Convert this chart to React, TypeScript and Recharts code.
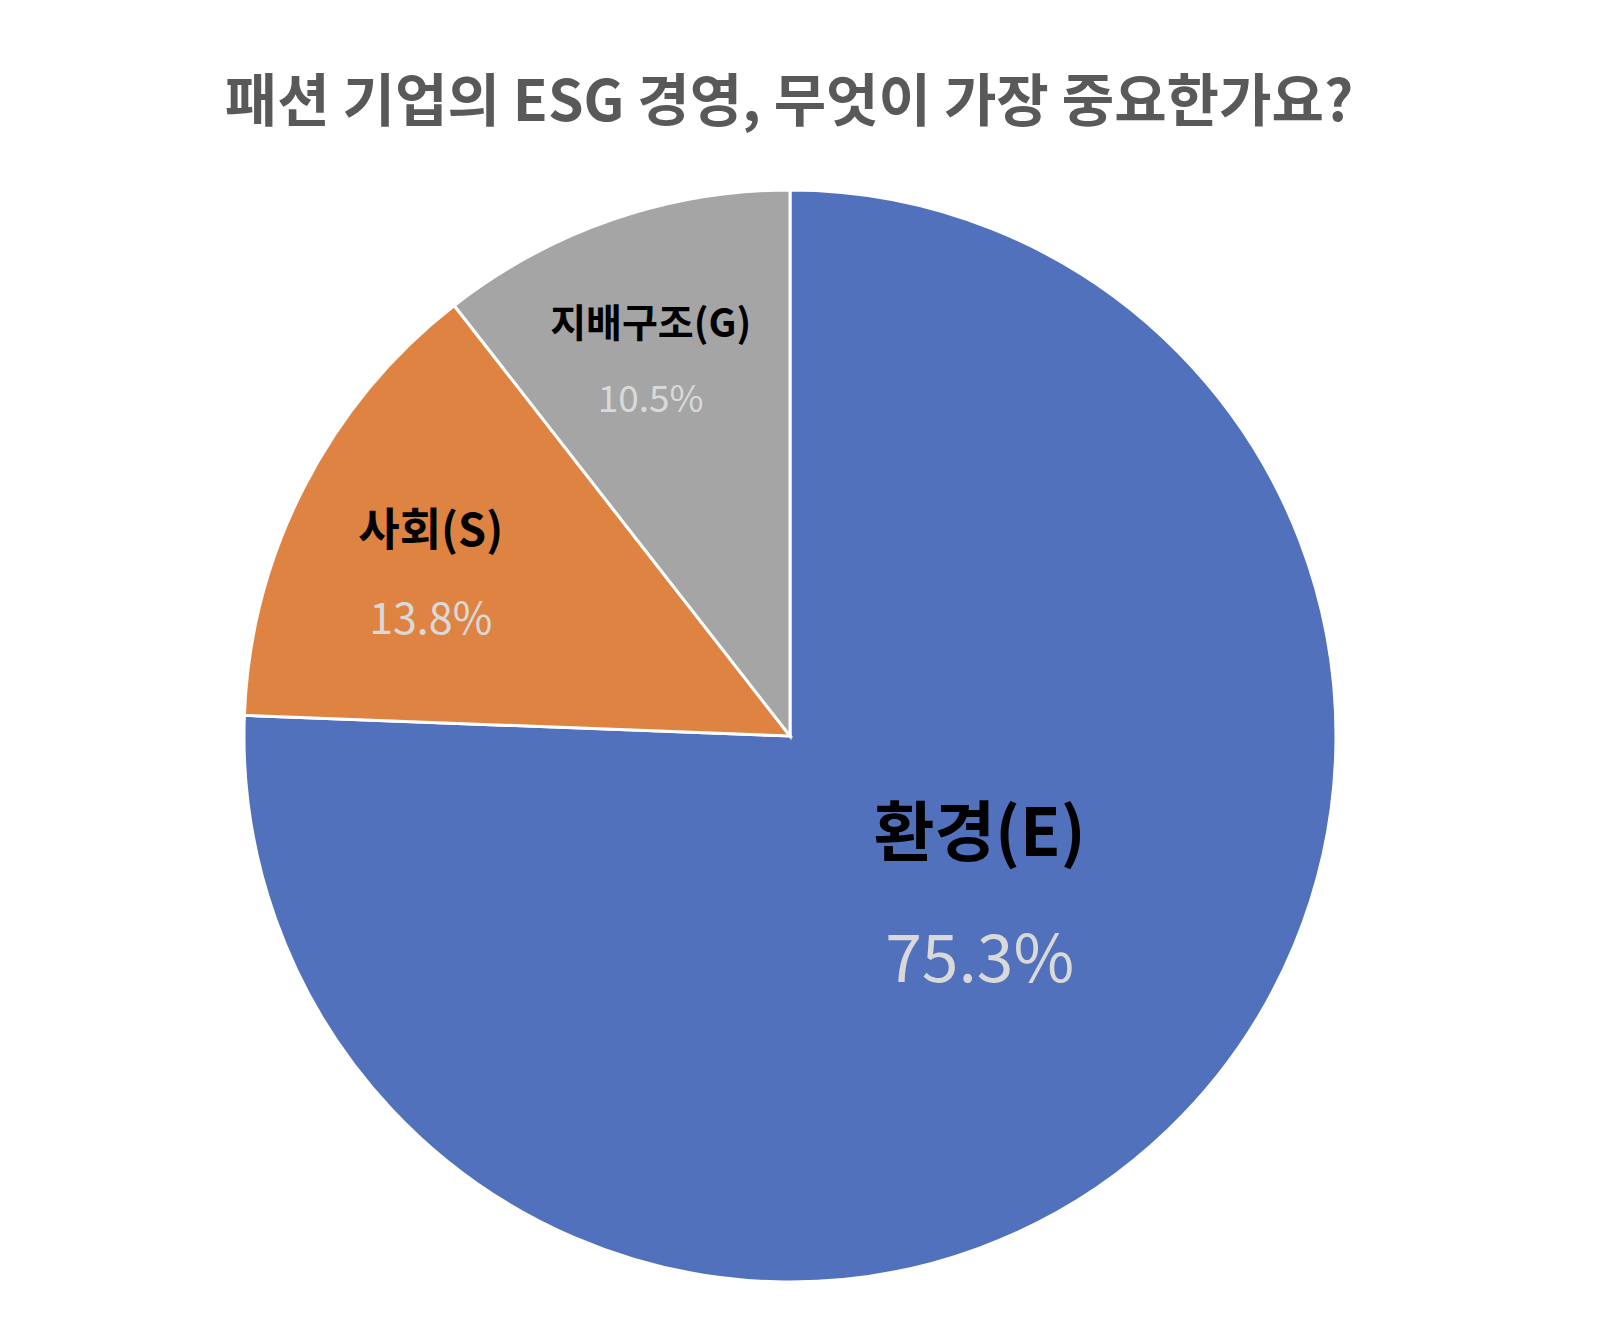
import React from 'react';
import { PieChart, Pie, Cell } from 'recharts';

const names = ['환경(E)', '사회(S)', '지배구조(G)'];
const values = [75.3, 13.8, 10.5];
const colors = ['#5171BD', '#DF8343', '#A5A5A5'];

const data = names.map((name, i) => ({ name, value: values[i] }));

const RAD = Math.PI / 180;
const FONT = '"Noto Sans CJK KR", "Noto Sans", sans-serif';

// label placement tweaks per slice (radius fraction, angle shift, sizes, gap)
const labelStyle = [
  { frac: 0.456, shift: 5.7, nameSize: 66, pctSize: 66, gap: 63, dy: -7 },
  { frac: 0.722, shift: 2.8, nameSize: 45, pctSize: 43, gap: 44, dy: -3 },
  { frac: 0.733, shift: 1.4, nameSize: 39, pctSize: 37, gap: 38, dy: -3 },
];

const renderLabel = (props: any) => {
  const { cx, cy, midAngle, outerRadius, index, name, value } = props;
  const s = labelStyle[index];
  const r = outerRadius * s.frac;
  const a = (midAngle + s.shift) * RAD;
  const x = cx + r * Math.cos(-a);
  const y = cy + r * Math.sin(-a) + s.dy;
  return (
    <g>
      <text x={x} y={y - s.gap} textAnchor="middle" dominantBaseline="central"
        fill="#000" fontFamily={FONT} fontWeight={700} fontSize={s.nameSize}>
        {name}
      </text>
      <text x={x} y={y + s.gap} textAnchor="middle" dominantBaseline="central"
        fill="#D9D9D9" fontFamily={FONT} fontWeight={400} fontSize={s.pctSize}>
        {value}%
      </text>
    </g>
  );
};

export default function App() {
  return (
    <div style={{ position: 'absolute', left: 0, top: 0, width: 1604, height: 1328, background: '#fff' }}>
      <div style={{
        position: 'absolute', left: 0, top: 56, width: 1578, textAlign: 'center',
        fontFamily: FONT, fontWeight: 700, fontSize: 57, color: '#595959', lineHeight: '80px',
      }}>
        패션 기업의 ESG 경영, 무엇이 가장 중요한가요?
      </div>
      <PieChart width={1604} height={1328}>
        <Pie
          data={data}
          dataKey="value"
          nameKey="name"
          cx={785}
          cy={731}
          outerRadius={546}
          startAngle={90}
          endAngle={-270}
          stroke="#fff"
          strokeWidth={3}
          labelLine={false}
          label={renderLabel}
          isAnimationActive={false}
        >
          {data.map((d, i) => (
            <Cell key={d.name} fill={colors[i]} />
          ))}
        </Pie>
      </PieChart>
    </div>
  );
}
